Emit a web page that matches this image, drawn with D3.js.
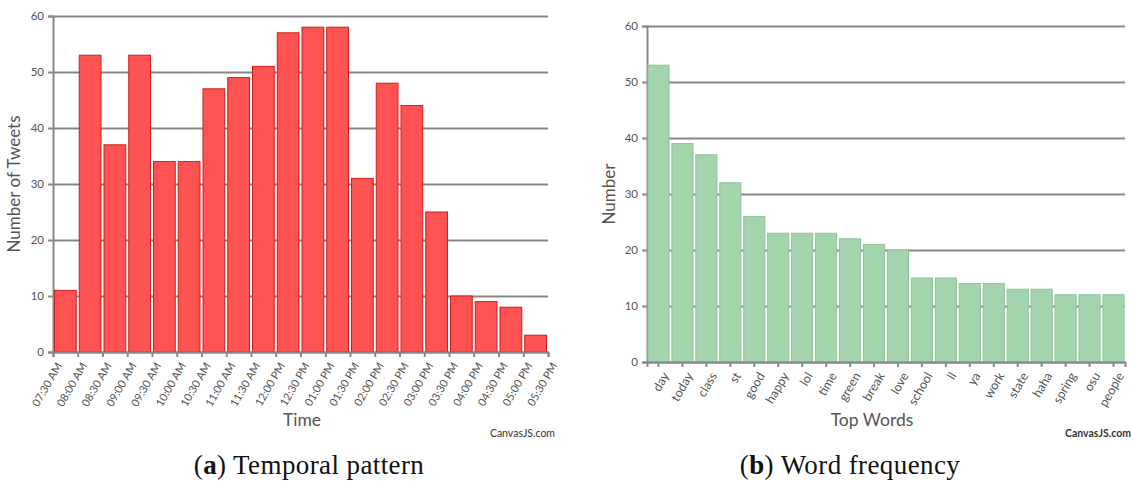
<!DOCTYPE html>
<html>
<head>
<meta charset="utf-8">
<script src="https://cdn.jsdelivr.net/npm/d3@7"></script>
<style>
  body { margin: 0; background: #fff; }
  svg { display: block; }
  .tick text { font-family: Lato, "Open Sans", sans-serif; fill: #555; }
</style>
</head>
<body>
<svg id="chart" width="1131" height="486"></svg>
<script>
// Temporal pattern (left)
const timeLabels = ["07:30 AM", "08:00 AM", "08:30 AM", "09:00 AM", "09:30 AM", "10:00 AM", "10:30 AM",
    "11:00 AM", "11:30 AM", "12:00 PM", "12:30 PM", "01:00 PM", "01:30 PM", "02:00 PM", "02:30 PM",
    "03:00 PM", "03:30 PM", "04:00 PM", "04:30 PM", "05:00 PM", "05:30 PM"];
const tweetCounts = [11, 53, 37, 53, 34, 34, 47, 49, 51, 57, 58, 58, 31, 48, 44, 25, 10, 9, 8, 3];

// Word frequency (right)
const topWords = ["day", "today", "class", "st", "good", "happy", "lol", "time", "green", "break",
    "love", "school", "ll", "ya", "work", "state", "haha", "spring", "osu", "people"];
const wordCounts = [53, 39, 37, 32, 26, 23, 23, 23, 22, 21, 20, 15, 15, 14, 14, 13, 13, 12, 12, 12];

const yTicks = [0, 10, 20, 30, 40, 50, 60];

const svg = d3.select("#chart");
const font = 'Lato, "Open Sans", sans-serif';
const serif = '"Liberation Serif", "DejaVu Serif", serif';

function drawYAxis(left, right, top, bottom) {
    const y = d3.scaleLinear().domain([0, 60]).range([bottom, top]);
    const g = svg.append("g")
        .attr("transform", `translate(${left},0)`)
        .call(d3.axisLeft(y).tickValues(yTicks).tickSize(5).tickPadding(4));
    g.select(".domain").attr("stroke", "#888").attr("stroke-width", 2);
    g.selectAll(".tick line").attr("stroke", "#888").attr("stroke-width", 2);
    g.selectAll(".tick text").style("font-size", "11.5px");
    // gridlines
    g.selectAll(".tick").append("line")
        .attr("x1", 0).attr("x2", right - left)
        .attr("stroke", "#888").attr("stroke-width", 2);
    return y;
}

function styleXAxis(g, size, dx) {
    g.select(".domain").attr("stroke", "#888").attr("stroke-width", 2);
    g.selectAll(".tick line").attr("stroke", "#888").attr("stroke-width", 2);
    g.selectAll(".tick text")
        .style("font-size", size)
        .attr("text-anchor", "end")
        .attr("dy", "0")
        .attr("transform", `translate(${dx},10) rotate(-60)`);
}

function label(x, y, text, size, opts = {}) {
    const t = svg.append("text")
        .attr("x", x).attr("y", y)
        .attr("text-anchor", opts.anchor || "middle")
        .style("font-family", opts.family || font)
        .style("font-size", size)
        .attr("fill", opts.fill || "#555");
    if (opts.weight) t.style("font-weight", opts.weight);
    if (opts.rotate) t.attr("transform", `rotate(-90,${x},${y})`);
    return t.text(text);
}

function caption(x, letter, text) {
    svg.append("text")
        .attr("x", x).attr("y", 474)
        .attr("text-anchor", "middle")
        .style("font-family", serif).style("font-size", "27px").style("letter-spacing", "0.4px")
        .attr("fill", "#111")
        .html(`(<tspan font-weight="bold">${letter}</tspan>) ${text}`);
}

// ---------- Left chart ----------
{
    const left = 53, right = 548, top = 16, bottom = 352;
    const y = drawYAxis(left, right, top, bottom);
    const x = d3.scaleLinear().domain([0, tweetCounts.length]).range([left, right]);

    svg.append("g").selectAll("rect")
        .data(tweetCounts)
        .join("rect")
        .attr("x", (d, i) => x(i) + 1.5)
        .attr("width", (d, i) => x(i + 1) - x(i) - 3)
        .attr("y", d => y(d))
        .attr("height", d => y(0) - y(d))
        .attr("fill", "#ff5252")
        .attr("stroke", "#c72020")
        .attr("stroke-width", 1);

    const xAxis = svg.append("g")
        .attr("transform", `translate(0,${bottom})`)
        .call(d3.axisBottom(x).tickValues(d3.range(timeLabels.length))
            .tickFormat(i => timeLabels[i]).tickSize(5).tickPadding(2));
    styleXAxis(xAxis, "11px", 3);

    label(20, (top + bottom) / 2, "Number of Tweets", "17px", { rotate: true });
    label(302, 426, "Time", "17.5px");
    label(555, 437, "CanvasJS.com", "10.5px", { anchor: "end", fill: "#333" });
    caption(309, "a", "Temporal pattern");
}

// ---------- Right chart ----------
{
    const left = 647, right = 1125, top = 26, bottom = 362;
    const y = drawYAxis(left, right, top, bottom);
    const x = d3.scaleBand().domain(topWords).range([left, right]).paddingInner(0.12).paddingOuter(0.04);

    svg.append("g").selectAll("rect")
        .data(wordCounts)
        .join("rect")
        .attr("x", (d, i) => x(topWords[i]))
        .attr("width", x.bandwidth())
        .attr("y", d => y(d))
        .attr("height", d => y(0) - y(d))
        .attr("fill", "#a3d4ae")
        .attr("stroke", "#8cc49a")
        .attr("stroke-width", 1);

    const xAxis = svg.append("g")
        .attr("transform", `translate(0,${bottom})`)
        .call(d3.axisBottom(x).tickSize(5).tickPadding(2));
    styleXAxis(xAxis, "12.5px", 5);

    label(615, (top + bottom) / 2, "Number", "17px", { rotate: true });
    label(872, 426, "Top Words", "17.5px");
    label(1131, 437, "CanvasJS.com", "10.5px", { anchor: "end", fill: "#333", weight: "bold" });
    caption(850, "b", "Word frequency");
}
</script>
</body>
</html>
